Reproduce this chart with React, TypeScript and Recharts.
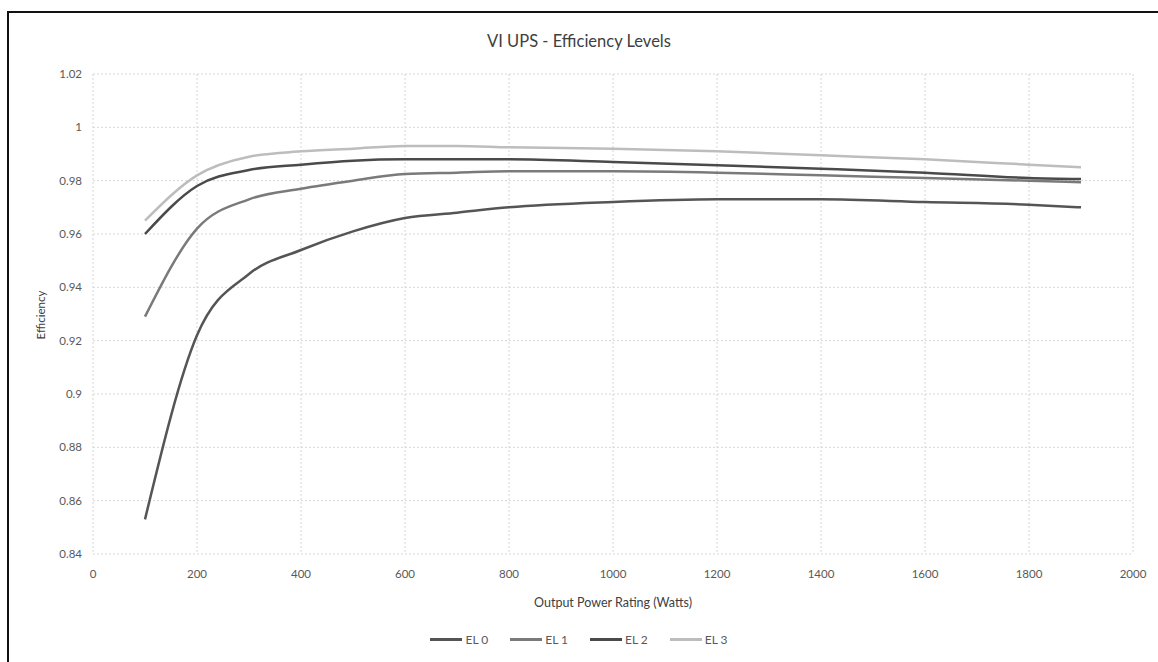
import { LineChart, Line, XAxis, YAxis, CartesianGrid } from "recharts";

const watts = [100, 200, 300, 400, 500, 600, 700, 800, 1000, 1200, 1400, 1600, 1800, 1900];
const el0 = [0.853, 0.922, 0.945, 0.954, 0.961, 0.966, 0.968, 0.970, 0.972, 0.973, 0.973, 0.972, 0.971, 0.970];
const el1 = [0.929, 0.962, 0.973, 0.977, 0.980, 0.9825, 0.983, 0.9835, 0.9835, 0.983, 0.982, 0.981, 0.980, 0.9794];
const el2 = [0.960, 0.978, 0.984, 0.986, 0.9875, 0.988, 0.988, 0.988, 0.987, 0.9858, 0.9845, 0.983, 0.981, 0.9806];
const el3 = [0.965, 0.982, 0.989, 0.991, 0.992, 0.993, 0.993, 0.9925, 0.992, 0.991, 0.9895, 0.988, 0.986, 0.985];

const xTicks = [0, 200, 400, 600, 800, 1000, 1200, 1400, 1600, 1800, 2000];
const yTicks = [0.84, 0.86, 0.88, 0.9, 0.92, 0.94, 0.96, 0.98, 1, 1.02];

const seriesNames = ["EL 0", "EL 1", "EL 2", "EL 3"];
const seriesColors = ["#555555", "#7a7a7a", "#4a4a4a", "#bdbdbd"];

const data = watts.map((w, i) => ({
  w,
  el0: el0[i],
  el1: el1[i],
  el2: el2[i],
  el3: el3[i],
}));

const font = "Lato, 'Open Sans', sans-serif";
const tickStyle = { fontSize: 11.5, fill: "#595959", fontFamily: font };

export default function App() {
  return (
    <div
      style={{
        position: "absolute",
        left: 0,
        top: 0,
        width: 1158,
        height: 662,
        background: "#fff",
        overflow: "hidden",
        fontFamily: font,
      }}
    >
      <div
        style={{
          position: "absolute",
          left: 7,
          top: 11,
          width: 1200,
          height: 700,
          borderTop: "2px solid #111",
          borderLeft: "2px solid #111",
        }}
      />
      <div
        style={{
          position: "absolute",
          top: 31,
          left: 0,
          width: 1158,
          textAlign: "center",
          fontSize: 16.5,
          color: "#404040",
        }}
      >
        VI UPS - Efficiency Levels
      </div>
      <div
        style={{
          position: "absolute",
          left: 40,
          top: 315,
          transform: "translate(-50%, -50%) rotate(-90deg)",
          fontSize: 11.5,
          color: "#404040",
          whiteSpace: "nowrap",
        }}
      >
        Efficiency
      </div>
      <div
        style={{
          position: "absolute",
          top: 595,
          left: 93,
          width: 1040,
          textAlign: "center",
          fontSize: 12.5,
          color: "#404040",
        }}
      >
        Output Power Rating (Watts)
      </div>
      <div
        style={{
          position: "absolute",
          top: 632,
          left: 0,
          width: 1158,
          display: "flex",
          justifyContent: "center",
          gap: 22,
          fontSize: 12,
          color: "#595959",
        }}
      >
        {seriesNames.map((n, i) => (
          <span key={n} style={{ display: "flex", alignItems: "center", gap: 3 }}>
            <span
              style={{
                display: "inline-block",
                width: 32,
                height: 2.5,
                background: seriesColors[i],
              }}
            />
            {n}
          </span>
        ))}
      </div>
      <LineChart
        width={1158}
        height={662}
        data={data}
        margin={{ top: 74, right: 25, bottom: 78, left: 0 }}
        style={{ position: "absolute", left: 0, top: 0 }}
      >
        <CartesianGrid
          stroke="#d6d6d6"
          strokeDasharray="2 2"
          horizontalValues={yTicks}
          verticalValues={xTicks}
        />
        <XAxis
          dataKey="w"
          type="number"
          domain={[0, 2000]}
          ticks={xTicks}
          axisLine={false}
          tickLine={false}
          tickMargin={10}
          height={30}
          tick={tickStyle}
          interval={0}
        />
        <YAxis
          type="number"
          domain={[0.84, 1.02]}
          ticks={yTicks}
          axisLine={false}
          tickLine={false}
          tickMargin={5}
          width={93}
          tick={tickStyle}
          interval={0}
          tickFormatter={(v: number) => String(parseFloat(v.toFixed(2)))}
        />
        {["el0", "el1", "el2", "el3"].map((k, i) => (
          <Line
            key={k}
            type="monotone"
            dataKey={k}
            stroke={seriesColors[i]}
            strokeWidth={2.5}
            dot={false}
            activeDot={false}
            isAnimationActive={false}
          />
        ))}
      </LineChart>
    </div>
  );
}
